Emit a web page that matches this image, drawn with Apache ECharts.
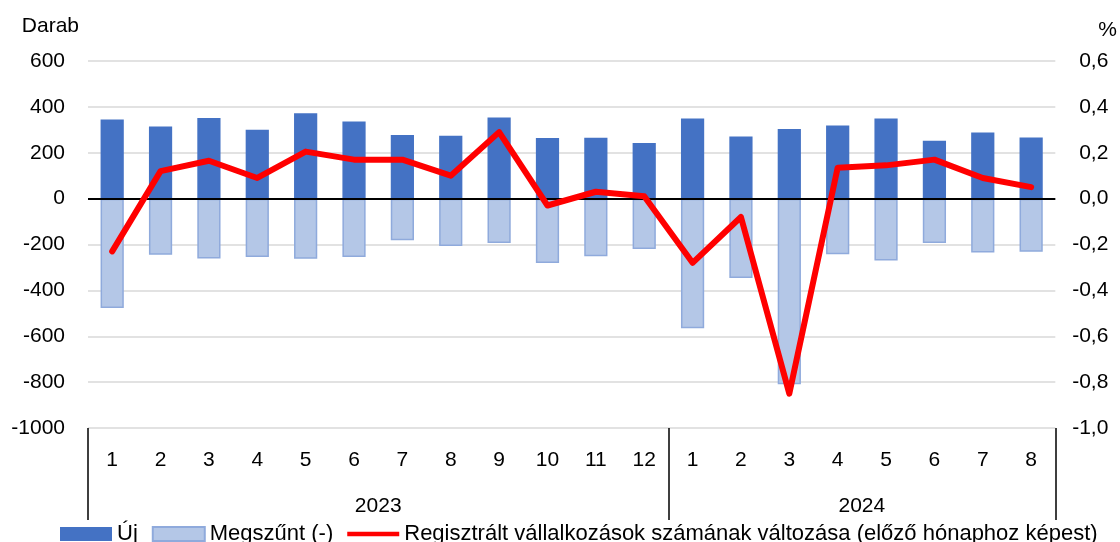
<!DOCTYPE html>
<html>
<head>
<meta charset="utf-8">
<script src="https://cdn.jsdelivr.net/npm/echarts@6/dist/echarts.min.js"></script>
<style>
  html, body { margin: 0; padding: 0; background: #fff; }
  #main { width: 1120px; height: 542px; }
</style>
</head>
<body>
<div id="main"></div>
<script>
// months of each year, in order
var months = ['1','2','3','4','5','6','7','8','9','10','11','12','1','2','3','4','5','6','7','8'];
var years = ['2023', '2024'];
var monthsPerYear = [12, 8];

var ujValues = [345, 314, 351, 300, 372, 336, 277, 274, 354, 264, 265, 242,
                349, 271, 303, 319, 349, 252, 288, 267];
var megszuntValues = [-477, -245, -261, -255, -262, -254, -181, -207, -194, -281, -251, -220,
                      -565, -346, -809, -242, -270, -194, -235, -232];
var changePct = [-0.23, 0.12, 0.165, 0.09, 0.205, 0.17, 0.17, 0.10, 0.29, -0.03, 0.03, 0.01,
                 -0.28, -0.08, -0.85, 0.135, 0.145, 0.17, 0.09, 0.05];

var seriesNames = ['Új', 'Megszűnt (-)', 'Regisztrált vállalkozások számának változása (előző hónaphoz képest)'];

var FONT = 'Liberation Sans';

document.addEventListener("DOMContentLoaded", function(){
  var myChart = echarts.init(document.getElementById('main'));

  // year boundaries and centres on a 0..n scale
  var bounds = [0];
  var centres = [];
  var acc = 0;
  for (var i = 0; i < monthsPerYear.length; i++) {
    centres.push(acc + monthsPerYear[i] / 2);
    acc += monthsPerYear[i];
    bounds.push(acc);
  }

  var option = {
    animation: false,
    textStyle: { fontFamily: FONT },
    grid: { left: 88, right: 63, top: 61, bottom: 114 },
    legend: {
      left: 55,
      top: 518,
      itemWidth: 52,
      itemHeight: 14,
      itemGap: 14,
      textStyle: { fontFamily: FONT, fontSize: 22, color: '#000' },
      data: [
        { name: seriesNames[0], icon: 'rect' },
        { name: seriesNames[1], icon: 'rect' },
        { name: seriesNames[2], icon: 'path://M0,0 M57,14 M0,4.5 L57,4.5 L57,9.5 L0,9.5 Z' }
      ]
    },
    xAxis: [
      {
        type: 'category',
        data: months,
        axisLine: { show: false, onZero: false },
        axisTick: { show: false },
        axisLabel: { interval: 0, margin: 22, fontSize: 21, color: '#000', fontFamily: FONT }
      },
      {
        type: 'value',
        min: 0,
        max: acc,
        position: 'bottom',
        splitLine: { show: false },
        axisLine: { show: false, onZero: false },
        axisTick: {
          show: true,
          customValues: bounds,
          length: 92,
          lineStyle: { color: '#000', width: 1.5 }
        },
        axisLabel: {
          customValues: centres,
          margin: 68,
          fontSize: 21,
          color: '#000',
          fontFamily: FONT,
          formatter: function (v) {
            var idx = centres.indexOf(v);
            return idx >= 0 ? years[idx] : '';
          }
        }
      }
    ],
    yAxis: [
      {
        type: 'value',
        min: -1000,
        max: 600,
        interval: 200,
        name: 'Darab',
        nameLocation: 'end',
        nameGap: 24,
        nameTextStyle: { fontSize: 21, color: '#000', align: 'right', padding: [0, 9, 0, 0], fontFamily: FONT },
        axisLine: { show: false },
        axisTick: { show: false },
        axisLabel: {
          margin: 23, fontSize: 21, color: '#000', fontFamily: FONT,
          formatter: function (v) { return String(v); }
        },
        splitLine: { lineStyle: { color: '#D9D9D9', width: 1.5 } }
      },
      {
        type: 'value',
        min: -1,
        max: 0.6,
        interval: 0.2,
        position: 'right',
        name: '%',
        nameLocation: 'end',
        nameGap: 20,
        nameTextStyle: { fontSize: 21, color: '#000', align: 'left', padding: [0, 0, 0, 43], fontFamily: FONT },
        axisLine: { show: false },
        axisTick: { show: false },
        splitLine: { show: false },
        axisLabel: {
          margin: 53,
          align: 'right',
          fontSize: 21,
          color: '#000',
          fontFamily: FONT,
          formatter: function (v) { return v.toFixed(1).replace('.', ','); }
        }
      }
    ],
    series: [
      {
        name: seriesNames[0],
        type: 'bar',
        stack: 'flow',
        data: ujValues,
        barWidth: '48%',
        itemStyle: { color: '#4472C4' },
        markLine: {
          silent: true,
          symbol: 'none',
          label: { show: false },
          lineStyle: { color: '#000', width: 2, type: 'solid' },
          data: [{ yAxis: 0 }]
        }
      },
      {
        name: seriesNames[1],
        type: 'bar',
        stack: 'flow',
        data: megszuntValues,
        barWidth: '48%',
        itemStyle: { color: '#B4C7E7', borderColor: '#8FAADC', borderWidth: 1.5 }
      },
      {
        name: seriesNames[2],
        type: 'line',
        yAxisIndex: 1,
        data: changePct,
        symbol: 'none',
        z: 5,
        itemStyle: { color: '#FF0000' },
        lineStyle: { color: '#FF0000', width: 6, join: 'round', cap: 'round' }
      }
    ]
  };

  option && myChart.setOption(option);
});
</script>
</body>
</html>
